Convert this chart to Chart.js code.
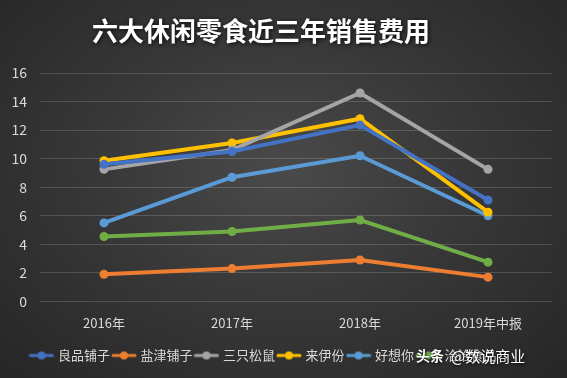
<!DOCTYPE html>
<html>
<head>
<meta charset="utf-8">
<script src="https://cdn.jsdelivr.net/npm/chart.js@4.4.1/dist/chart.umd.min.js"></script>
<style>
  html, body { margin: 0; padding: 0; }
  body {
    width: 567px; height: 378px; overflow: hidden;
    background: radial-gradient(ellipse at 50% 45%, #4a4a4a 0%, #383838 45%, #262626 100%);
  }
  #wrap { position: relative; width: 567px; height: 378px; }
</style>
</head>
<body>
<div id="wrap"><canvas id="myChart" width="567" height="378"></canvas></div>
<script>
const years = ['2016年', '2017年', '2018年', '2019年中报'];
const yTicks = [0, 2, 4, 6, 8, 10, 12, 14, 16];

const liangpin = [9.6, 10.5, 12.35, 7.1];
const yanjin = [1.9, 2.3, 2.9, 1.7];
const sanzhi = [9.25, 10.6, 14.6, 9.25];
const laiyifen = [9.85, 11.1, 12.8, 6.25];
const haoxiang = [5.5, 8.7, 10.2, 6.0];
const qiaqia = [4.55, 4.9, 5.7, 2.75];

const seriesNames = ['良品铺子', '盐津铺子', '三只松鼠', '来伊份', '好想你', '洽洽食品'];
const seriesColors = ['#4472C4', '#ED7D31', '#A5A5A5', '#FFC000', '#5B9BD5', '#70AD47'];
const seriesData = [liangpin, yanjin, sanzhi, laiyifen, haoxiang, qiaqia];

const cjk = '"Noto Sans CJK SC", "Noto Sans", sans-serif';

// legend marker: short line with a dot
function makeMarker(color) {
    const c = document.createElement('canvas');
    c.width = 26; c.height = 10;
    const g = c.getContext('2d');
    g.strokeStyle = color;
    g.lineWidth = 3;
    g.lineCap = 'round';
    g.beginPath(); g.moveTo(2, 5); g.lineTo(24, 5); g.stroke();
    g.fillStyle = color;
    g.beginPath(); g.arc(13, 5, 4, 0, Math.PI * 2); g.fill();
    return c;
}

// title drawn by hand (sits a bit left of centre, with a shadow) + bottom watermark
const overlay = {
    id: 'overlay',
    afterLayout(chart) {
        // legend in the original sits a little left of centre too
        chart.legend.left -= 12;
        chart.legend.right -= 12;
    },
    afterDraw(chart) {
        const ctx = chart.ctx;
        ctx.save();
        ctx.textAlign = 'center';
        ctx.textBaseline = 'middle';
        ctx.shadowColor = 'rgba(0,0,0,0.85)';
        ctx.shadowBlur = 4;
        ctx.shadowOffsetX = 1;
        ctx.shadowOffsetY = 1;
        ctx.fillStyle = '#ffffff';
        ctx.font = 'bold 26px ' + cjk;
        ctx.fillText('六大休闲零食近三年销售费用', 261, 31);

        ctx.textAlign = 'left';
        ctx.shadowBlur = 3;
        ctx.font = 'bold 14px ' + cjk;
        ctx.fillText('头条', 416, 356);
        ctx.font = '15px ' + cjk;
        ctx.fillText('@数说商业', 451, 356);
        ctx.restore();
    }
};

const ctx = document.getElementById('myChart').getContext('2d');
new Chart(ctx, {
    type: 'line',
    data: {
        labels: years,
        datasets: seriesData.map((d, i) => ({
            label: seriesNames[i],
            data: d,
            borderColor: seriesColors[i],
            backgroundColor: seriesColors[i],
            borderWidth: 4,
            pointRadius: 4.5,
            pointStyle: 'circle',
            pointBackgroundColor: seriesColors[i],
            pointBorderWidth: 0,
            tension: 0,
            _marker: makeMarker(seriesColors[i])
        }))
    },
    options: {
        responsive: false,
        animation: false,
        layout: { padding: { left: 0, right: 15, top: 73, bottom: 6 } },
        plugins: {
            title: { display: false },
            legend: {
                position: 'bottom',
                labels: {
                    color: '#d9d9d9',
                    font: { family: cjk, size: 13 },
                    usePointStyle: true,
                    pointStyleWidth: 20,
                    padding: 4,
                    generateLabels(chart) {
                        return chart.data.datasets.map((ds, i) => ({
                            text: ds.label,
                            fillStyle: ds.borderColor,
                            strokeStyle: ds.borderColor,
                            fontColor: '#d9d9d9',
                            pointStyle: ds._marker,
                            lineWidth: 0,
                            hidden: false,
                            datasetIndex: i
                        }));
                    }
                }
            },
            tooltip: { enabled: false }
        },
        scales: {
            x: {
                offset: true,
                grid: { display: false },
                border: { display: false },
                afterFit(axis) { axis.height += 8; },
                ticks: { color: '#d9d9d9', font: { family: cjk, size: 13 }, padding: 6 }
            },
            y: {
                min: 0,
                max: 16,
                afterBuildTicks(axis) { axis.ticks = yTicks.map(v => ({ value: v })); },
                afterFit(axis) { axis.width = 40; },
                grid: { color: 'rgba(255,255,255,0.16)', drawTicks: false },
                border: { display: false },
                ticks: { color: '#d9d9d9', font: { family: cjk, size: 14 }, padding: 13 }
            }
        }
    },
    plugins: [overlay]
});
</script>
</body>
</html>
